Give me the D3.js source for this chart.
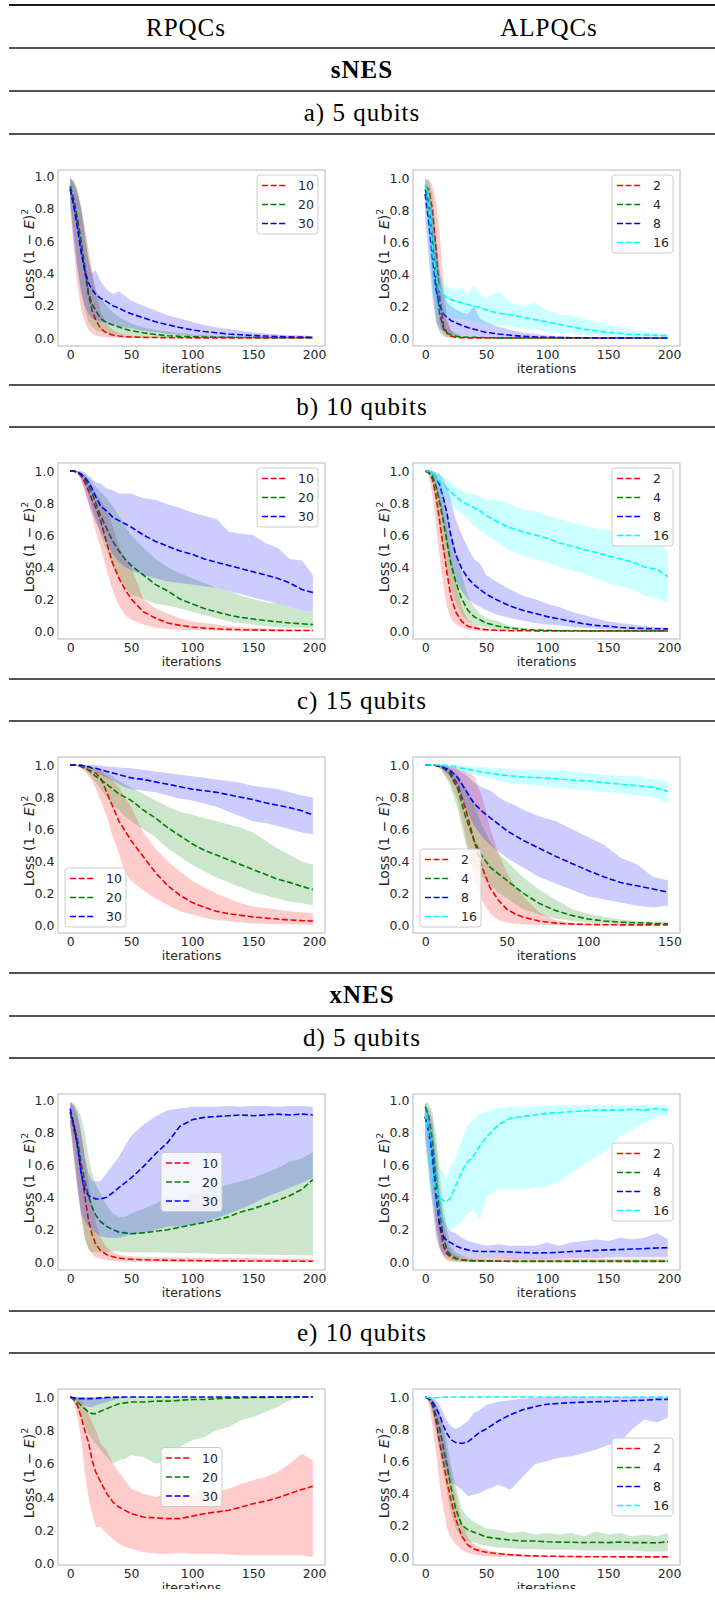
<!DOCTYPE html>
<meta charset="utf-8">
<style>
  body { margin: 0; background: #fff; }
  .tab { font-family: "Liberation Serif", serif; font-size: 25px; letter-spacing: 1px; fill: #000; }
</style>
<script src="https://d3js.org/d3.v7.min.js"></script>
<div id="fig"></div>
<script>
// iteration grids the curves were read at
var iters200 = [0,3,6,9,12,15,18,21,25,30,35,40,45,50,60,70,80,90,100,110,120,130,140,150,160,170,180,190,199];
var iters150 = [0,5,10,15,20,25,30,35,40,45,50,55,60,70,80,90,100,110,120,130,140,149];

var xTicks200 = [0,50,100,150,200];
var xTicks150 = [0,50,100,150];
var yTicks = [0,0.2,0.4,0.6,0.8,1.0];

var layersRPQC = ["10","20","30"];
var layersALPQC = ["2","4","8","16"];
var seriesColors = ["#ff0000","#008000","#0000ff","#00ffff"];

var colTitles = ["RPQCs","ALPQCs"];
var rowTitles = ["sNES","a) 5 qubits","b) 10 qubits","c) 15 qubits","xNES","d) 5 qubits","e) 10 qubits"];

// ---- sNES, 5 qubits ----
var sNES5_R_mean = [
  [0.93,0.82,0.7,0.56,0.41,0.27,0.17,0.11,0.06, 0.03,0.018,0.012,0.008,0.006, 0.004,0.003,0.002,0.002,0.001,0.001,0.001,0.001,0.001,0.001,0.001,0.001,0.001,0.001,0.001],
  [0.94,0.86,0.74,0.6,0.44,0.28,0.21,0.17,0.12, 0.095,0.08,0.068,0.055,0.045, 0.032,0.022,0.014,0.01,0.008,0.006,0.005,0.004,0.003,0.003,0.002,0.002,0.002,0.002,0.002],
  [0.92,0.82,0.68,0.53,0.42,0.34,0.3,0.27,0.245, 0.225,0.2,0.185,0.165,0.15, 0.125,0.1,0.082,0.065,0.05,0.04,0.032,0.025,0.02,0.015,0.012,0.009,0.007,0.006,0.005]
];
var sNES5_R_lo = [
  [0.85,0.55,0.32,0.18,0.1,0.05,0.03,0.015,0.008, 0.004,0.002,0.001,0,0, 0,0,0,0,0,0,0,0,0,0,0,0,0,0,0],
  [0.86,0.65,0.45,0.3,0.18,0.1,0.07,0.05,0.04, 0.03,0.025,0.02,0.015,0.012, 0.008,0.005,0.003,0.002,0.001,0.001,0,0,0,0,0,0,0,0,0],
  [0.8,0.6,0.42,0.28,0.2,0.15,0.12,0.11,0.1, 0.09,0.08,0.075,0.065,0.06, 0.045,0.035,0.025,0.018,0.012,0.008,0.006,0.004,0.003,0.002,0.001,0.001,0,0,0]
];
var sNES5_R_hi = [
  [0.99,0.97,0.9,0.8,0.68,0.55,0.42,0.28,0.16, 0.09,0.05,0.03,0.02,0.015, 0.01,0.008,0.006,0.005,0.004,0.003,0.003,0.003,0.002,0.002,0.002,0.002,0.002,0.002,0.002],
  [0.99,0.97,0.92,0.82,0.68,0.5,0.38,0.3,0.24, 0.2,0.16,0.13,0.11,0.09, 0.065,0.05,0.04,0.03,0.022,0.018,0.014,0.011,0.009,0.007,0.006,0.005,0.004,0.004,0.003],
  [0.99,0.96,0.9,0.8,0.62,0.48,0.4,0.42,0.35, 0.3,0.27,0.29,0.26,0.23, 0.2,0.17,0.14,0.12,0.1,0.08,0.065,0.055,0.045,0.035,0.028,0.022,0.018,0.015,0.012]
];

var sNES5_A_mean = [
  [0.95,0.93,0.8,0.55,0.25,0.08,0.03,0.012,0.005, 0.002,0.001,0.001,0.001,0, 0,0,0,0,0,0,0,0,0,0,0,0,0,0,0],
  [0.93,0.85,0.6,0.35,0.15,0.06,0.03,0.02,0.012, 0.007,0.005,0.004,0.003,0.002, 0.001,0.001,0,0,0,0,0,0,0,0,0,0,0,0,0],
  [0.9,0.72,0.5,0.3,0.2,0.15,0.13,0.11,0.095, 0.08,0.065,0.055,0.045,0.035, 0.025,0.017,0.011,0.007,0.005,0.003,0.002,0.002,0.001,0.001,0.001,0,0,0,0],
  [0.96,0.88,0.55,0.38,0.3,0.27,0.25,0.24,0.23, 0.22,0.21,0.2,0.19,0.175, 0.155,0.145,0.13,0.115,0.1,0.085,0.07,0.055,0.045,0.035,0.028,0.022,0.019,0.016,0.014]
];
var sNES5_A_lo = [
  [0.88,0.8,0.55,0.25,0.08,0.02,0.005,0.002,0, 0,0,0,0,0, 0,0,0,0,0,0,0,0,0,0,0,0,0,0,0],
  [0.85,0.7,0.35,0.1,0.03,0.01,0.005,0.003,0.002, 0.001,0,0,0,0, 0,0,0,0,0,0,0,0,0,0,0,0,0,0,0],
  [0.75,0.5,0.25,0.1,0.05,0.04,0.03,0.025,0.02, 0.015,0.01,0.008,0.005,0.004, 0.002,0.001,0,0,0,0,0,0,0,0,0,0,0,0,0],
  [0.85,0.6,0.3,0.2,0.16,0.14,0.13,0.13,0.12, 0.12,0.11,0.1,0.09,0.085, 0.08,0.07,0.06,0.05,0.04,0.035,0.03,0.02,0.015,0.01,0.006,0.004,0.003,0.003,0.003]
];
var sNES5_A_hi = [
  [1.0,0.99,0.95,0.85,0.65,0.35,0.12,0.05,0.02, 0.01,0.005,0.003,0.002,0.001, 0,0,0,0,0,0,0,0,0,0,0,0,0,0,0],
  [0.99,0.98,0.9,0.65,0.4,0.2,0.1,0.05,0.03, 0.015,0.01,0.008,0.006,0.005, 0.003,0.002,0.001,0.001,0,0,0,0,0,0,0,0,0,0,0],
  [0.97,0.92,0.8,0.6,0.4,0.28,0.22,0.2,0.18, 0.16,0.15,0.2,0.12,0.1, 0.07,0.05,0.035,0.025,0.015,0.01,0.007,0.005,0.004,0.003,0.002,0.002,0.001,0.001,0.001],
  [0.99,0.95,0.8,0.55,0.42,0.34,0.32,0.31,0.3, 0.32,0.27,0.33,0.27,0.25, 0.29,0.22,0.2,0.22,0.17,0.15,0.14,0.12,0.1,0.08,0.065,0.05,0.04,0.03,0.025]
];

// ---- sNES, 10 qubits ----
var sNES10_R_mean = [
  [1.0,1.0,0.99,0.97,0.93,0.88,0.82,0.77,0.69, 0.55,0.42,0.33,0.26,0.2, 0.12,0.08,0.05,0.035,0.025,0.018,0.013,0.01,0.008,0.006,0.005,0.004,0.003,0.003,0.003],
  [1.0,1.0,0.99,0.98,0.95,0.91,0.86,0.8,0.72, 0.64,0.56,0.5,0.45,0.41, 0.35,0.29,0.25,0.2,0.17,0.14,0.12,0.1,0.085,0.075,0.065,0.058,0.05,0.045,0.04],
  [1.0,1.0,0.995,0.98,0.96,0.93,0.89,0.84,0.78, 0.75,0.71,0.69,0.67,0.65, 0.6,0.56,0.53,0.5,0.48,0.45,0.43,0.41,0.39,0.37,0.35,0.33,0.3,0.26,0.24]
];
var sNES10_R_lo = [
  [1.0,0.99,0.98,0.94,0.88,0.8,0.72,0.62,0.52, 0.38,0.25,0.16,0.1,0.07, 0.04,0.02,0.012,0.008,0.005,0.004,0.003,0.002,0.001,0.001,0.001,0,0,0,0],
  [1.0,1.0,0.99,0.97,0.92,0.85,0.77,0.7,0.6, 0.5,0.4,0.33,0.27,0.23, 0.2,0.17,0.16,0.14,0.12,0.1,0.08,0.06,0.05,0.04,0.03,0.025,0.02,0.02,0.015],
  [1.0,1.0,0.99,0.95,0.88,0.8,0.74,0.68,0.62, 0.55,0.48,0.43,0.4,0.38, 0.35,0.33,0.31,0.3,0.29,0.28,0.27,0.25,0.23,0.21,0.19,0.17,0.15,0.13,0.12]
];
var sNES10_R_hi = [
  [1.0,1.0,1.0,0.99,0.97,0.94,0.9,0.86,0.82, 0.75,0.65,0.53,0.45,0.4, 0.2,0.14,0.11,0.08,0.06,0.05,0.04,0.03,0.025,0.02,0.016,0.013,0.011,0.01,0.009],
  [1.0,1.0,1.0,0.99,0.98,0.96,0.93,0.9,0.87, 0.83,0.78,0.72,0.66,0.6, 0.52,0.45,0.4,0.36,0.33,0.3,0.27,0.25,0.22,0.2,0.18,0.17,0.15,0.13,0.12],
  [1.0,1.0,1.0,1.0,0.99,0.97,0.95,0.93,0.92, 0.89,0.88,0.86,0.86,0.86, 0.83,0.82,0.79,0.77,0.74,0.72,0.7,0.62,0.61,0.6,0.55,0.52,0.45,0.44,0.35]
];

var sNES10_A_mean = [
  [1.0,0.99,0.95,0.84,0.68,0.52,0.36,0.22,0.12, 0.06,0.03,0.02,0.012,0.008, 0.004,0.002,0.002,0.001,0.001,0.001,0,0,0,0,0,0,0,0,0],
  [1.0,0.99,0.97,0.9,0.8,0.68,0.55,0.42,0.31, 0.2,0.13,0.09,0.07,0.05, 0.03,0.018,0.01,0.006,0.004,0.002,0.002,0.001,0.001,0.001,0.001,0.001,0.001,0.001,0.001],
  [1.0,1.0,0.99,0.96,0.91,0.83,0.73,0.6,0.48, 0.39,0.33,0.29,0.26,0.23, 0.19,0.155,0.13,0.11,0.09,0.075,0.06,0.045,0.035,0.03,0.022,0.018,0.015,0.014,0.013],
  [1.0,1.0,0.99,0.96,0.93,0.91,0.89,0.87,0.84, 0.81,0.79,0.77,0.75,0.72, 0.68,0.645,0.62,0.6,0.58,0.55,0.53,0.51,0.49,0.47,0.45,0.43,0.4,0.385,0.34]
];
var sNES10_A_lo = [
  [1.0,0.97,0.85,0.65,0.45,0.28,0.15,0.08,0.04, 0.02,0.01,0.005,0.003,0.002, 0.001,0,0,0,0,0,0,0,0,0,0,0,0,0,0],
  [1.0,0.98,0.92,0.8,0.65,0.5,0.38,0.27,0.18, 0.1,0.06,0.04,0.03,0.02, 0.01,0.005,0.002,0.001,0,0,0,0,0,0,0,0,0,0,0],
  [1.0,1.0,0.97,0.9,0.8,0.68,0.55,0.42,0.32, 0.25,0.2,0.17,0.15,0.13, 0.1,0.08,0.065,0.05,0.04,0.035,0.025,0.02,0.015,0.01,0.008,0.006,0.005,0.005,0.005],
  [1.0,1.0,0.97,0.92,0.87,0.84,0.82,0.8,0.76, 0.73,0.7,0.66,0.63,0.6, 0.55,0.5,0.47,0.45,0.43,0.4,0.38,0.36,0.33,0.3,0.28,0.26,0.22,0.2,0.18]
];
var sNES10_A_hi = [
  [1.0,1.0,0.98,0.93,0.85,0.75,0.62,0.48,0.32, 0.15,0.07,0.04,0.025,0.015, 0.01,0.005,0.003,0.002,0.002,0.001,0.001,0.001,0,0,0,0,0,0,0],
  [1.0,1.0,1.0,0.97,0.93,0.85,0.75,0.62,0.5, 0.35,0.22,0.15,0.11,0.08, 0.06,0.03,0.02,0.01,0.005,0.004,0.003,0.002,0.002,0.002,0.002,0.002,0.002,0.002,0.002],
  [1.0,1.0,1.0,0.99,0.98,0.95,0.9,0.82,0.7, 0.6,0.52,0.45,0.42,0.35, 0.3,0.26,0.22,0.2,0.17,0.15,0.12,0.1,0.08,0.06,0.05,0.04,0.03,0.025,0.02],
  [1.0,1.0,1.0,0.99,0.98,0.96,0.95,0.93,0.9, 0.88,0.86,0.86,0.84,0.82, 0.82,0.79,0.76,0.75,0.72,0.7,0.68,0.66,0.64,0.63,0.6,0.62,0.58,0.55,0.5]
];

// ---- sNES, 15 qubits ----
var sNES15_R_mean = [
  [1.0,1.0,1.0,0.99,0.98,0.97,0.96,0.95,0.92, 0.83,0.74,0.65,0.59,0.53, 0.43,0.33,0.25,0.19,0.145,0.115,0.09,0.075,0.065,0.055,0.048,0.042,0.036,0.032,0.03],
  [1.0,1.0,1.0,0.99,0.98,0.97,0.95,0.93,0.91, 0.88,0.85,0.82,0.8,0.78, 0.72,0.67,0.61,0.56,0.51,0.47,0.44,0.41,0.38,0.35,0.32,0.29,0.27,0.245,0.225],
  [1.0,1.0,1.0,1.0,0.99,0.99,0.98,0.98,0.97, 0.96,0.95,0.94,0.93,0.92, 0.91,0.895,0.88,0.865,0.85,0.84,0.83,0.815,0.8,0.785,0.765,0.75,0.735,0.715,0.69]
];
var sNES15_R_lo = [
  [1.0,1.0,0.99,0.98,0.96,0.93,0.9,0.85,0.78, 0.68,0.55,0.45,0.33,0.28, 0.22,0.17,0.13,0.09,0.07,0.05,0.035,0.03,0.02,0.015,0.012,0.01,0.01,0.008,0.005],
  [1.0,1.0,1.0,0.99,0.97,0.95,0.92,0.89,0.85, 0.8,0.75,0.72,0.68,0.65, 0.6,0.55,0.48,0.43,0.38,0.34,0.3,0.27,0.24,0.21,0.19,0.17,0.15,0.14,0.13],
  [1.0,1.0,1.0,0.99,0.985,0.98,0.97,0.96,0.94, 0.92,0.9,0.88,0.86,0.85, 0.84,0.83,0.81,0.79,0.78,0.76,0.74,0.71,0.68,0.65,0.64,0.62,0.6,0.58,0.57]
];
var sNES15_R_hi = [
  [1.0,1.0,1.0,1.0,1.0,0.99,0.98,0.97,0.96, 0.93,0.9,0.86,0.8,0.74, 0.58,0.48,0.4,0.34,0.28,0.24,0.2,0.17,0.14,0.12,0.11,0.1,0.09,0.085,0.08],
  [1.0,1.0,1.0,1.0,1.0,0.99,0.99,0.98,0.97, 0.95,0.93,0.9,0.88,0.86, 0.82,0.78,0.74,0.71,0.69,0.67,0.65,0.63,0.61,0.58,0.53,0.48,0.44,0.4,0.38],
  [1.0,1.0,1.0,1.0,1.0,1.0,1.0,1.0,0.995, 0.99,0.988,0.985,0.982,0.98, 0.97,0.96,0.95,0.94,0.93,0.92,0.91,0.9,0.89,0.87,0.86,0.85,0.83,0.81,0.8]
];

var sNES15_A_mean = [
  [1.0,1.0,0.99,0.96,0.88,0.72,0.53,0.36,0.23,0.155,0.1,0.07,0.05,0.025,0.012,0.006,0.003,0.002,0.001,0.001,0.001,0.001],
  [1.0,1.0,0.99,0.95,0.85,0.67,0.53,0.43,0.36,0.32,0.28,0.24,0.2,0.135,0.09,0.06,0.037,0.025,0.018,0.014,0.01,0.008],
  [1.0,1.0,0.99,0.97,0.92,0.84,0.76,0.71,0.67,0.63,0.59,0.56,0.53,0.48,0.43,0.385,0.34,0.3,0.265,0.245,0.225,0.205],
  [1.0,1.0,1.0,0.995,0.985,0.975,0.965,0.955,0.95,0.94,0.935,0.93,0.925,0.92,0.915,0.905,0.9,0.89,0.88,0.87,0.86,0.835]
];
var sNES15_A_lo = [
  [1.0,1.0,0.97,0.9,0.78,0.55,0.3,0.15,0.07,0.03,0.015,0.008,0.004,0.001,0,0,0,0,0,0,0,0],
  [1.0,1.0,0.97,0.88,0.72,0.5,0.38,0.3,0.25,0.2,0.17,0.13,0.1,0.065,0.04,0.025,0.015,0.008,0.005,0.003,0.002,0.002],
  [1.0,1.0,0.98,0.93,0.85,0.73,0.62,0.55,0.5,0.46,0.42,0.39,0.36,0.3,0.26,0.22,0.18,0.16,0.14,0.12,0.11,0.12],
  [1.0,1.0,0.99,0.98,0.97,0.95,0.94,0.93,0.92,0.9,0.89,0.88,0.88,0.87,0.86,0.85,0.84,0.83,0.82,0.81,0.8,0.76]
];
var sNES15_A_hi = [
  [1.0,1.0,1.0,0.99,0.98,0.96,0.93,0.8,0.6,0.45,0.33,0.25,0.18,0.08,0.03,0.015,0.01,0.005,0.003,0.002,0.002,0.002],
  [1.0,1.0,1.0,0.98,0.94,0.86,0.75,0.62,0.52,0.45,0.4,0.35,0.3,0.22,0.16,0.1,0.07,0.05,0.035,0.025,0.02,0.015],
  [1.0,1.0,1.0,0.99,0.97,0.94,0.89,0.86,0.84,0.8,0.77,0.75,0.72,0.68,0.65,0.6,0.55,0.5,0.42,0.38,0.3,0.28],
  [1.0,1.0,1.0,1.0,1.0,0.995,0.99,0.988,0.985,0.98,0.975,0.972,0.97,0.97,0.965,0.96,0.95,0.94,0.93,0.93,0.91,0.9]
];

// ---- xNES, 5 qubits ----
var xNES5_R_mean = [
  [0.93,0.82,0.72,0.56,0.41,0.26,0.17,0.11,0.07, 0.045,0.032,0.025,0.02,0.017, 0.014,0.012,0.011,0.01,0.009,0.008,0.008,0.007,0.007,0.006,0.006,0.006,0.005,0.005,0.005],
  [0.92,0.85,0.76,0.61,0.5,0.41,0.34,0.29,0.25, 0.22,0.2,0.185,0.18,0.175, 0.18,0.19,0.2,0.215,0.23,0.245,0.26,0.28,0.31,0.33,0.355,0.38,0.41,0.45,0.51],
  [0.95,0.85,0.72,0.55,0.45,0.41,0.4,0.39,0.39, 0.4,0.43,0.46,0.49,0.52, 0.59,0.67,0.74,0.84,0.88,0.895,0.9,0.905,0.91,0.905,0.91,0.915,0.91,0.915,0.91]
];
var xNES5_R_lo = [
  [0.85,0.65,0.45,0.28,0.15,0.08,0.05,0.03,0.02, 0.01,0.007,0.005,0.003,0.002, 0.001,0.001,0,0,0,0,0,0,0,0,0,0,0,0,0],
  [0.85,0.7,0.5,0.3,0.15,0.08,0.06,0.06,0.06, 0.06,0.065,0.065,0.06,0.06, 0.06,0.06,0.058,0.055,0.055,0.052,0.05,0.05,0.048,0.046,0.045,0.044,0.043,0.042,0.04],
  [0.85,0.65,0.45,0.3,0.25,0.22,0.2,0.18,0.16, 0.15,0.15,0.15,0.16,0.17, 0.18,0.2,0.22,0.22,0.23,0.25,0.27,0.3,0.33,0.36,0.4,0.43,0.46,0.49,0.52]
];
var xNES5_R_hi = [
  [0.99,0.96,0.9,0.8,0.65,0.5,0.35,0.25,0.15, 0.09,0.06,0.045,0.04,0.035, 0.03,0.03,0.028,0.028,0.027,0.026,0.025,0.025,0.024,0.024,0.023,0.022,0.022,0.021,0.02],
  [0.99,0.98,0.95,0.9,0.8,0.65,0.55,0.48,0.42, 0.35,0.3,0.28,0.28,0.3, 0.33,0.36,0.4,0.38,0.42,0.44,0.46,0.48,0.5,0.52,0.55,0.58,0.62,0.64,0.68],
  [0.99,0.97,0.92,0.8,0.65,0.55,0.5,0.5,0.5, 0.55,0.6,0.65,0.72,0.78, 0.85,0.9,0.94,0.95,0.96,0.96,0.96,0.965,0.96,0.965,0.965,0.96,0.965,0.965,0.96]
];

var xNES5_A_mean = [
  [0.9,0.8,0.68,0.42,0.22,0.1,0.05,0.03,0.02, 0.012,0.009,0.007,0.006,0.006, 0.005,0.005,0.005,0.005,0.005,0.005,0.005,0.005,0.005,0.005,0.005,0.005,0.005,0.005,0.005],
  [0.96,0.9,0.75,0.5,0.3,0.15,0.07,0.04,0.025, 0.015,0.01,0.008,0.007,0.006, 0.005,0.004,0.004,0.004,0.004,0.004,0.004,0.004,0.004,0.004,0.004,0.004,0.004,0.004,0.004],
  [0.9,0.8,0.65,0.4,0.22,0.16,0.13,0.12,0.1, 0.085,0.075,0.068,0.065,0.065, 0.065,0.062,0.058,0.056,0.057,0.06,0.065,0.068,0.072,0.075,0.077,0.08,0.083,0.087,0.088],
  [0.92,0.75,0.53,0.44,0.4,0.38,0.375,0.4,0.47, 0.56,0.62,0.66,0.72,0.77, 0.85,0.89,0.9,0.91,0.92,0.925,0.93,0.935,0.94,0.94,0.94,0.945,0.94,0.95,0.94]
];
var xNES5_A_lo = [
  [0.8,0.6,0.4,0.2,0.08,0.03,0.01,0.005,0, 0,0,0,0,0, 0,0,0,0,0,0,0,0,0,0,0,0,0,0,0],
  [0.9,0.75,0.5,0.25,0.1,0.04,0.02,0.01,0.005, 0.002,0.001,0.001,0.001,0.001, 0.001,0.001,0.001,0.001,0.001,0.001,0.001,0.001,0.001,0.001,0.001,0.001,0.001,0.001,0.001],
  [0.75,0.55,0.35,0.15,0.08,0.05,0.04,0.035,0.03, 0.03,0.028,0.025,0.025,0.025, 0.025,0.022,0.02,0.02,0.02,0.022,0.025,0.025,0.025,0.028,0.03,0.03,0.03,0.03,0.03],
  [0.8,0.5,0.35,0.3,0.25,0.22,0.22,0.2,0.22, 0.25,0.3,0.32,0.26,0.4, 0.45,0.45,0.45,0.46,0.47,0.5,0.55,0.6,0.65,0.7,0.78,0.82,0.86,0.9,0.9]
];
var xNES5_A_hi = [
  [0.98,0.95,0.88,0.7,0.45,0.25,0.12,0.07,0.04, 0.03,0.028,0.025,0.025,0.025, 0.024,0.024,0.023,0.023,0.022,0.022,0.022,0.021,0.021,0.021,0.02,0.02,0.02,0.02,0.02],
  [0.99,0.98,0.93,0.78,0.55,0.35,0.2,0.1,0.06, 0.04,0.03,0.02,0.018,0.015, 0.01,0.009,0.008,0.008,0.008,0.008,0.008,0.008,0.008,0.008,0.008,0.008,0.008,0.008,0.008],
  [0.98,0.93,0.83,0.62,0.4,0.28,0.22,0.19,0.18, 0.15,0.13,0.12,0.11,0.1, 0.11,0.1,0.1,0.1,0.12,0.1,0.12,0.13,0.14,0.13,0.15,0.14,0.15,0.18,0.14],
  [0.99,0.95,0.85,0.7,0.58,0.55,0.52,0.6,0.65, 0.75,0.85,0.88,0.92,0.93, 0.95,0.96,0.96,0.965,0.97,0.97,0.97,0.97,0.97,0.97,0.97,0.97,0.975,0.97,0.97]
];

// ---- xNES, 10 qubits ----
var xNES10_R_mean = [
  [1.0,0.985,0.95,0.88,0.8,0.73,0.62,0.55,0.49, 0.42,0.37,0.34,0.32,0.3, 0.28,0.275,0.27,0.27,0.285,0.3,0.31,0.32,0.34,0.36,0.375,0.395,0.42,0.445,0.465],
  [1.0,0.99,0.97,0.95,0.93,0.91,0.9,0.9,0.915, 0.93,0.945,0.96,0.965,0.97, 0.97,0.975,0.975,0.98,0.985,0.985,0.99,0.993,0.995,0.997,0.998,0.999,1.0,1.0,1.0],
  [1.0,0.995,0.99,0.99,0.99,0.99,0.99,0.992,0.995, 0.997,0.998,0.999,1.0,1.0, 1.0,1.0,1.0,1.0,1.0,1.0,1.0,1.0,1.0,1.0,1.0,1.0,1.0,1.0,1.0]
];
var xNES10_R_lo = [
  [1.0,0.97,0.88,0.75,0.55,0.4,0.3,0.22,0.22, 0.18,0.15,0.12,0.1,0.09, 0.07,0.06,0.06,0.065,0.06,0.06,0.06,0.055,0.05,0.05,0.05,0.05,0.05,0.05,0.04],
  [1.0,0.97,0.93,0.88,0.83,0.78,0.75,0.72,0.68, 0.64,0.6,0.62,0.63,0.65, 0.64,0.6,0.62,0.7,0.74,0.76,0.8,0.82,0.86,0.88,0.91,0.94,0.98,1.0,1.0],
  [1.0,0.99,0.98,0.96,0.95,0.94,0.94,0.95,0.96, 0.97,0.98,0.99,0.995,1.0, 1.0,1.0,1.0,1.0,1.0,1.0,1.0,1.0,1.0,1.0,1.0,1.0,1.0,1.0,1.0]
];
var xNES10_R_hi = [
  [1.0,1.0,0.99,0.97,0.95,0.9,0.85,0.8,0.72, 0.68,0.6,0.55,0.5,0.45, 0.42,0.4,0.42,0.4,0.42,0.45,0.43,0.45,0.48,0.5,0.52,0.55,0.6,0.66,0.62],
  [1.0,1.0,1.0,0.995,0.993,0.99,0.99,0.99,0.993, 0.995,0.997,0.998,0.999,1.0, 1.0,1.0,1.0,1.0,1.0,1.0,1.0,1.0,1.0,1.0,1.0,1.0,1.0,1.0,1.0],
  [1.0,1.0,1.0,1.0,1.0,1.0,1.0,1.0,1.0, 1.0,1.0,1.0,1.0,1.0, 1.0,1.0,1.0,1.0,1.0,1.0,1.0,1.0,1.0,1.0,1.0,1.0,1.0,1.0,1.0]
];

var xNES10_A_mean = [
  [1.0,0.99,0.95,0.85,0.71,0.59,0.47,0.36,0.24, 0.13,0.075,0.05,0.038,0.03, 0.02,0.014,0.01,0.007,0.005,0.004,0.003,0.002,0.002,0.002,0.001,0.001,0.001,0.001,0.001],
  [1.0,0.99,0.96,0.88,0.8,0.68,0.57,0.44,0.3, 0.2,0.17,0.155,0.14,0.125, 0.115,0.105,0.1,0.1,0.095,0.093,0.092,0.09,0.092,0.09,0.093,0.09,0.09,0.088,0.095],
  [1.0,0.99,0.97,0.93,0.885,0.82,0.77,0.735,0.715, 0.71,0.72,0.75,0.78,0.8, 0.85,0.89,0.92,0.94,0.955,0.96,0.965,0.968,0.97,0.972,0.975,0.978,0.98,0.985,0.985],
  [1.0,0.995,0.993,0.995,0.997,0.998,0.999,1.0,1.0, 1.0,1.0,1.0,1.0,1.0, 1.0,1.0,1.0,1.0,1.0,1.0,1.0,1.0,1.0,1.0,1.0,1.0,1.0,1.0,1.0]
];
var xNES10_A_lo = [
  [1.0,0.96,0.82,0.65,0.45,0.3,0.18,0.12,0.08, 0.045,0.025,0.015,0.01,0.005, 0.002,0.001,0,0,0,0,0,0,0,0,0,0,0,0,0],
  [1.0,0.97,0.9,0.78,0.65,0.52,0.4,0.28,0.18, 0.12,0.1,0.09,0.08,0.07, 0.06,0.055,0.05,0.05,0.045,0.045,0.045,0.04,0.04,0.04,0.04,0.04,0.035,0.035,0.035],
  [1.0,0.99,0.92,0.8,0.68,0.6,0.52,0.47,0.45, 0.42,0.38,0.39,0.4,0.42, 0.45,0.42,0.5,0.58,0.6,0.62,0.63,0.65,0.67,0.7,0.72,0.8,0.86,0.84,0.87],
  [1.0,0.99,0.985,0.99,0.995,0.997,0.998,0.998,0.998, 0.998,0.998,0.998,0.998,0.998, 0.998,0.998,0.998,0.998,0.998,0.998,0.998,0.998,0.998,0.998,0.998,0.998,0.998,0.998,0.998]
];
var xNES10_A_hi = [
  [1.0,1.0,0.98,0.95,0.88,0.78,0.65,0.52,0.4, 0.22,0.12,0.08,0.06,0.045, 0.03,0.02,0.015,0.01,0.008,0.006,0.005,0.004,0.004,0.004,0.003,0.003,0.003,0.003,0.003],
  [1.0,1.0,0.99,0.96,0.9,0.82,0.72,0.58,0.45, 0.3,0.25,0.22,0.2,0.18, 0.17,0.15,0.16,0.14,0.15,0.14,0.15,0.13,0.16,0.14,0.15,0.13,0.14,0.13,0.15],
  [1.0,1.0,0.995,0.98,0.95,0.9,0.85,0.82,0.8, 0.82,0.85,0.9,0.92,0.95, 0.97,0.98,0.99,0.995,1.0,1.0,1.0,1.0,1.0,1.0,1.0,1.0,1.0,1.0,1.0],
  [1.0,1.0,1.0,1.0,1.0,1.0,1.0,1.0,1.0, 1.0,1.0,1.0,1.0,1.0, 1.0,1.0,1.0,1.0,1.0,1.0,1.0,1.0,1.0,1.0,1.0,1.0,1.0,1.0,1.0]
];

// ---- page layout ----
var W = 715, H = 1602;
var boxW = 267, boxH = 176;
var colLeft = [58, 413];
var plotTop = [170, 463, 757, 1094, 1389];
var ruleY = [5, 48, 91, 134, 385, 427, 679, 721, 973, 1016, 1058, 1311, 1353];
var titleRowTop = [48, 91, 385, 679, 973, 1016, 1311];
var cutY = 1589;   // the last row is cropped by the page edge

var panels = [
  {row:0, col:0, x:iters200, xt:xTicks200, names:layersRPQC,  mean:sNES5_R_mean,  lo:sNES5_R_lo,  hi:sNES5_R_hi,  loc:"upper right"},
  {row:0, col:1, x:iters200, xt:xTicks200, names:layersALPQC, mean:sNES5_A_mean,  lo:sNES5_A_lo,  hi:sNES5_A_hi,  loc:"upper right"},
  {row:1, col:0, x:iters200, xt:xTicks200, names:layersRPQC,  mean:sNES10_R_mean, lo:sNES10_R_lo, hi:sNES10_R_hi, loc:"upper right"},
  {row:1, col:1, x:iters200, xt:xTicks200, names:layersALPQC, mean:sNES10_A_mean, lo:sNES10_A_lo, hi:sNES10_A_hi, loc:"upper right"},
  {row:2, col:0, x:iters200, xt:xTicks200, names:layersRPQC,  mean:sNES15_R_mean, lo:sNES15_R_lo, hi:sNES15_R_hi, loc:"lower left"},
  {row:2, col:1, x:iters150, xt:xTicks150, names:layersALPQC, mean:sNES15_A_mean, lo:sNES15_A_lo, hi:sNES15_A_hi, loc:"lower left"},
  {row:3, col:0, x:iters200, xt:xTicks200, names:layersRPQC,  mean:xNES5_R_mean,  lo:xNES5_R_lo,  hi:xNES5_R_hi,  loc:"center"},
  {row:3, col:1, x:iters200, xt:xTicks200, names:layersALPQC, mean:xNES5_A_mean,  lo:xNES5_A_lo,  hi:xNES5_A_hi,  loc:"center right"},
  {row:4, col:0, x:iters200, xt:xTicks200, names:layersRPQC,  mean:xNES10_R_mean, lo:xNES10_R_lo, hi:xNES10_R_hi, loc:"center"},
  {row:4, col:1, x:iters200, xt:xTicks200, names:layersALPQC, mean:xNES10_A_mean, lo:xNES10_A_lo, hi:xNES10_A_hi, loc:"center right"}
];

var svg = d3.select("#fig").append("svg")
    .attr("width", W)
    .attr("height", H);

// table rules
svg.selectAll(".rule")
  .data(ruleY)
  .join("line")
    .attr("class", "rule")
    .attr("x1", 9).attr("x2", W)
    .attr("y1", function(d) { return d; })
    .attr("y2", function(d) { return d; })
    .attr("stroke", "#1a1a1a")
    .attr("stroke-width", function(d, i) { return i === 0 ? 2 : 1.3; });

// header texts
svg.selectAll(".coltitle")
  .data(colTitles)
  .join("text")
    .attr("class", "tab")
    .attr("x", function(d, i) { return i === 0 ? 186 : 549; })
    .attr("y", 35.5)
    .attr("text-anchor", "middle")
    .text(function(d) { return d; });

svg.selectAll(".rowtitle")
  .data(rowTitles)
  .join("text")
    .attr("class", "tab")
    .attr("x", 362)
    .attr("y", function(d, i) { return titleRowTop[i] + 30; })
    .attr("text-anchor", "middle")
    .style("font-weight", function(d) { return /NES$/.test(d) ? "bold" : "normal"; })
    .text(function(d) { return d; });

svg.append("defs").append("clipPath").attr("id", "pageclip")
  .append("rect").attr("x", 0).attr("y", 0).attr("width", W).attr("height", cutY);

var fig = svg.append("g").attr("clip-path", "url(#pageclip)");

function legendBox(loc, h, w) {
  if (loc === "upper right") return [boxW - 7 - w, 5];
  if (loc === "lower left") return [7, boxH - 6 - h];
  if (loc === "center") return [(boxW - w) / 2, (boxH - h) / 2];
  return [boxW - 7 - w, (boxH - h) / 2];   // center right
}

panels.forEach(function(p, k) {
  var g = fig.append("g")
    .attr("transform", "translate(" + colLeft[p.col] + "," + plotTop[p.row] + ")");

  var n = p.x.length, xMax = p.x[n - 1];
  var x = d3.scaleLinear().domain([-0.05 * xMax, 1.05 * xMax]).range([0, boxW]);
  var ext = d3.extent([].concat.apply([], p.lo.concat(p.hi, p.mean)));
  var pad = 0.05 * (ext[1] - ext[0]);
  var y = d3.scaleLinear().domain([ext[0] - pad, ext[1] + pad]).range([boxH, 0]);

  g.append("clipPath").attr("id", "clip" + k)
    .append("rect").attr("width", boxW).attr("height", boxH);
  var plot = g.append("g").attr("clip-path", "url(#clip" + k + ")");

  var idx = d3.range(n);
  p.mean.forEach(function(m, s) {
    var area = d3.area()
      .x(function(i) { return x(p.x[i]); })
      .y0(function(i) { return y(p.lo[s][i]); })
      .y1(function(i) { return y(p.hi[s][i]); });
    var line = d3.line()
      .x(function(i) { return x(p.x[i]); })
      .y(function(i) { return y(m[i]); });
    plot.append("path")
      .attr("d", area(idx))
      .attr("fill", seriesColors[s])
      .attr("fill-opacity", 0.2);
    plot.append("path")
      .attr("d", line(idx))
      .attr("fill", "none")
      .attr("stroke", seriesColors[s])
      .attr("stroke-width", 1.6)
      .attr("stroke-dasharray", "6,2.6");
  });

  // frame
  g.append("rect")
    .attr("width", boxW).attr("height", boxH)
    .attr("fill", "none")
    .attr("stroke", "#c4c4c4")
    .attr("stroke-width", 1.2);

  var gx = g.append("g")
    .attr("transform", "translate(0," + boxH + ")")
    .call(d3.axisBottom(x).tickValues(p.xt).tickSize(0).tickPadding(4.5).tickFormat(d3.format("d")));
  var gy = g.append("g")
    .call(d3.axisLeft(y).tickValues(yTicks).tickSize(0).tickPadding(3.5).tickFormat(d3.format(".1f")));
  [gx, gy].forEach(function(a) {
    a.select(".domain").remove();
    a.attr("font-family", "DejaVu Sans").attr("font-size", 12.5);
    a.selectAll("text").attr("fill", "#262626");
  });

  g.append("text")
    .attr("x", boxW / 2).attr("y", boxH + 27)
    .attr("text-anchor", "middle")
    .attr("font-family", "DejaVu Sans").attr("font-size", 12.5)
    .attr("fill", "#262626")
    .text("iterations");

  var yl = g.append("text")
    .attr("transform", "translate(-24," + (boxH / 2 - 4) + ") rotate(-90)")
    .attr("text-anchor", "middle")
    .attr("font-family", "DejaVu Sans").attr("font-size", 14)
    .attr("fill", "#262626");
  yl.append("tspan").text("Loss (1 − ");
  yl.append("tspan").style("font-style", "italic").text("E");
  yl.append("tspan").text(")");
  yl.append("tspan").attr("dy", -6).attr("font-size", 9.5).text("2");

  // legend
  var lw = 61, lh = 21 + 19 * (p.names.length - 1);
  var pos = legendBox(p.loc, lh, lw);
  var lg = g.append("g").attr("transform", "translate(" + pos[0] + "," + pos[1] + ")");
  lg.append("rect")
    .attr("width", lw).attr("height", lh).attr("rx", 3)
    .attr("fill", "#fff").attr("fill-opacity", 0.8)
    .attr("stroke", "#cccccc").attr("stroke-width", 1);
  var item = lg.selectAll(".item")
    .data(p.names)
    .join("g")
      .attr("transform", function(d, i) { return "translate(0," + (10.5 + 19 * i) + ")"; });
  item.append("line")
    .attr("x1", 5).attr("x2", 29)
    .attr("stroke", function(d, i) { return seriesColors[i]; })
    .attr("stroke-width", 1.6)
    .attr("stroke-dasharray", "6,2.6");
  item.append("text")
    .attr("x", 41).attr("dy", "0.36em")
    .attr("font-family", "DejaVu Sans").attr("font-size", 12.5)
    .attr("fill", "#262626")
    .text(function(d) { return d; });
});
</script>
